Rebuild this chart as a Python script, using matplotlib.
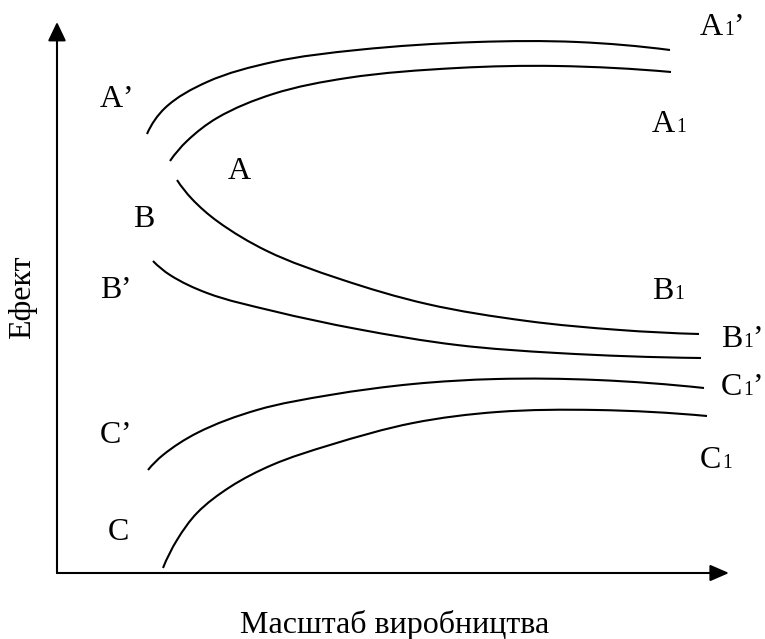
import matplotlib
matplotlib.use("Agg")
import math
import matplotlib.pyplot as plt
from matplotlib.path import Path
from matplotlib.patches import PathPatch

# points (x = scale of production, y = effect), origin at the axes corner
a1p_x = [90, 108, 150, 216, 300, 420, 520, 613]
a1p_y = [439, 465, 491, 511, 523, 531, 531, 523]

a1_x = [113, 130, 160, 216, 290, 400, 500, 614]
a1_y = [412, 432, 455, 479, 495, 505, 507, 501]

b1_x = [120, 135, 160, 210, 283, 370, 470, 563, 642]
b1_y = [393, 374, 352, 322, 294, 269, 252, 243, 239]

b1p_x = [96, 113, 150, 216, 300, 400, 500, 644]
b1p_y = [312, 298, 280, 262, 244, 228, 220, 215]

c1p_x = [91, 106, 140, 200, 273, 356, 440, 540, 647]
c1p_y = [103, 118, 140, 163, 178, 189, 194, 193, 185]

c1_x = [106, 120, 140, 173, 215, 273, 356, 440, 540, 650]
c1_y = [5, 33, 60, 86, 108, 128, 150, 161, 163, 157]

curves = [(a1p_x, a1p_y), (a1_x, a1_y), (b1_x, b1_y),
          (b1p_x, b1p_y), (c1p_x, c1p_y), (c1_x, c1_y)]

plt.rcParams["font.family"] = ["Liberation Serif", "DejaVu Serif"]
FS = 23

fig = plt.figure(figsize=(7.65, 6.39), dpi=100)
ax = fig.add_axes([57 / 765, 66 / 639, 672 / 765, 551 / 639])
ax.set_xlim(0, 672)
ax.set_ylim(0, 551)
ax.axis("off")


def unit(dx, dy):
    d = math.hypot(dx, dy)
    return dx / d, dy / d


def smooth_path(xs, ys):
    # cubic bezier through the read points, tangents scaled by segment length
    pts = list(zip(xs, ys))
    n = len(pts)
    tan = []
    for i in range(n):
        if 0 < i < n - 1:
            a = unit(pts[i][0] - pts[i - 1][0], pts[i][1] - pts[i - 1][1])
            b = unit(pts[i + 1][0] - pts[i][0], pts[i + 1][1] - pts[i][1])
            tan.append(unit(a[0] + b[0], a[1] + b[1]))
        else:
            tan.append(None)
    s0 = unit(pts[1][0] - pts[0][0], pts[1][1] - pts[0][1])
    tan[0] = unit(2 * s0[0] - tan[1][0], 2 * s0[1] - tan[1][1])
    s1 = unit(pts[-1][0] - pts[-2][0], pts[-1][1] - pts[-2][1])
    tan[-1] = unit(2 * s1[0] - tan[-2][0], 2 * s1[1] - tan[-2][1])
    verts = [pts[0]]
    codes = [Path.MOVETO]
    for i in range(n - 1):
        p1, p2 = pts[i], pts[i + 1]
        L = math.hypot(p2[0] - p1[0], p2[1] - p1[1]) / 3
        verts += [(p1[0] + tan[i][0] * L, p1[1] + tan[i][1] * L),
                  (p2[0] - tan[i + 1][0] * L, p2[1] - tan[i + 1][1] * L), p2]
        codes += [Path.CURVE4] * 3
    return Path(verts, codes)


for xs, ys in curves:
    ax.add_patch(PathPatch(smooth_path(xs, ys), fill=False, lw=1.5, ec="black",
                           capstyle="butt", clip_on=False))

# axes with arrow heads
ax.annotate("", xy=(0, 1), xytext=(0, 0), xycoords="axes fraction",
            arrowprops=dict(arrowstyle="-|>,head_length=1.15,head_width=0.55",
                            mutation_scale=10, lw=1.5, color="black",
                            shrinkA=0, shrinkB=0))
ax.annotate("", xy=(1, 0), xytext=(0, 0), xycoords="axes fraction",
            arrowprops=dict(arrowstyle="-|>,head_length=1.15,head_width=0.5",
                            mutation_scale=10, lw=1.5, color="black",
                            shrinkA=0, shrinkB=0))


def label(x, y, letter, sub=False, prime=False):
    t = ax.text(x, y, letter, fontsize=FS, ha="left", va="baseline")
    last = t
    if sub:
        last = ax.annotate("1", xy=(1, y), xycoords=(t, "data"), xytext=(0.5, 0),
                           textcoords="offset points", fontsize=FS * 0.62,
                           ha="left", va="baseline")
    if prime:
        ax.annotate("\u2019", xy=(1, y), xycoords=(last, "data"),
                    xytext=(-0.5, 0), textcoords="offset points", fontsize=FS,
                    ha="left", va="baseline")


label(643, 538, "A", sub=True, prime=True)
label(43, 466, "A", prime=True)
label(595, 441, "A", sub=True)
label(171, 394, "A")
label(76, 346, "B")
label(43, 275, "B", prime=True)
label(595, 274, "B", sub=True)
label(664, 226, "B", sub=True, prime=True)
label(664, 178, "C", sub=True, prime=True)
label(43, 130, "C", prime=True)
label(643, 105, "C", sub=True)
label(51, 33, "C")

fig.text(23 / 765, 1 - 297 / 639, "Ефект", fontsize=FS, rotation=90,
         ha="center", va="center")
fig.text(395 / 765, 1 - 633 / 639, "Масштаб виробництва", fontsize=FS,
         ha="center", va="baseline")

fig.savefig("out.png", dpi=100)
